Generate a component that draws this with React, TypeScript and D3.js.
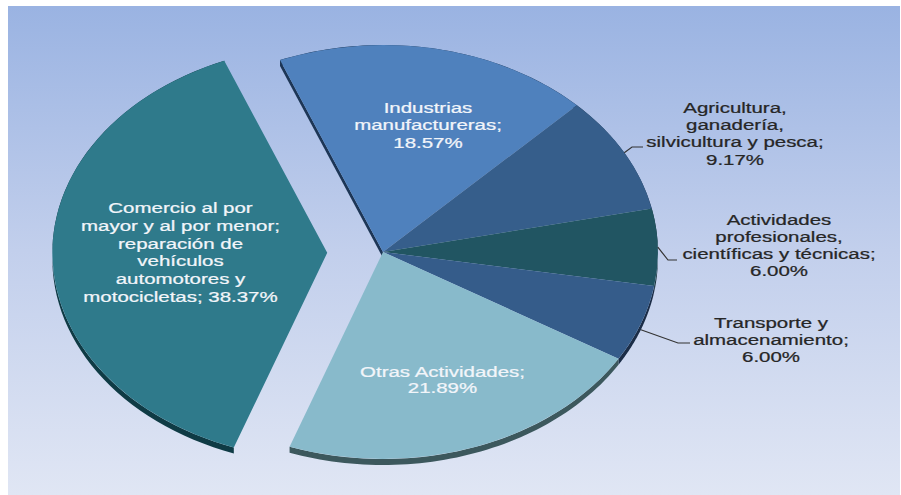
import React from "react";
import * as d3 from "d3";

const categories = [
  "Industrias manufactureras",
  "Agricultura, ganadería, silvicultura y pesca",
  "Actividades profesionales, científicas y técnicas",
  "Transporte y almacenamiento",
  "Otras Actividades",
  "Comercio al por mayor y al por menor; reparación de vehículos automotores y motocicletas",
];
const values = [18.57, 9.17, 6.0, 6.0, 21.89, 38.37];
const labelNameLines = [
  ["Industrias", "manufactureras;"],
  ["Agricultura,", "ganadería,", "silvicultura y pesca;"],
  ["Actividades", "profesionales,", "científicas y técnicas;"],
  ["Transporte y", "almacenamiento;"],
  ["Otras Actividades;"],
  ["Comercio al por", "mayor y al por menor;", "reparación de", "vehículos", "automotores y", "motocicletas;"],
];

// layout / style (not data)
const W = 901;
const H = 495;
const CX = 383;
const CY = 252;
const R = 207;
const SX = 1.328;
const DEPTH = 6;
const EXPLODE = [0, 0, 0, 0, 0, 42];
const START = (-22 * Math.PI) / 180;
const FILLS = ["#4f81bd", "#365e8b", "#215562", "#355c8a", "#88bacb", "#2f7a8b"];
const SIDES = ["#1d3656", "#1e3550", "#123038", "#1b2d47", "#3c585d", "#0f3b45"];
const LABEL_LAYOUT = [
  { x: 428, y: 112.7, lh: 17.8, color: "#f2f5fa", newLine: true, elbow: null },
  { x: 735, y: 112.7, lh: 17.3, color: "#262626", newLine: true, elbow: [[632, 147], [643, 147]] },
  { x: 779, y: 225, lh: 17, color: "#262626", newLine: true, elbow: [[668, 260], [677, 260]] },
  { x: 771, y: 328.3, lh: 17, color: "#262626", newLine: true, elbow: [[678, 343], [690, 343]] },
  { x: 442.5, y: 376.7, lh: 16.6, color: "#f2f5fa", newLine: true, elbow: null },
  { x: 180.5, y: 213.3, lh: 17.7, color: "#f2f5fa", newLine: false, elbow: null },
];

function pt(a: number, r: number): [number, number] {
  return [r * Math.sin(a), -r * Math.cos(a)];
}

export default function App() {
  const pie = d3
    .pie<number>()
    .sort(null)
    .value((d) => d)
    .startAngle(START)
    .endAngle(START + 2 * Math.PI);
  const arcs = pie(values);
  const arcGen = d3.arc<d3.PieArcDatum<number>>().innerRadius(0).outerRadius(R);

  const offsets = arcs.map((a, i) => {
    const mid = (a.startAngle + a.endAngle) / 2;
    return pt(mid, EXPLODE[i]);
  });

  const bandPath = (a: d3.PieArcDatum<number>) => {
    const n = 60;
    const angs = d3.range(n + 1).map((k) => a.startAngle + ((a.endAngle - a.startAngle) * k) / n);
    const top = angs.map((t) => pt(t, R));
    const bottom = angs.slice().reverse().map((t) => {
      const p = pt(t, R);
      return [p[0], p[1] + DEPTH] as [number, number];
    });
    return d3.line()([...top, ...bottom]) + "Z";
  };

  const radialFace = (a: d3.PieArcDatum<number>) => {
    const p = pt(a.startAngle, R);
    return d3.line()([
      [0, 0],
      p,
      [p[0], p[1] + DEPTH],
      [0, DEPTH],
    ]) + "Z";
  };

  const fmt = (v: number) => v.toFixed(2) + "%";

  return (
    <div style={{ position: "absolute", left: 0, top: 0 }}>
      <svg width={W} height={H} viewBox={`0 0 ${W} ${H}`} style={{ display: "block" }}>
        <defs>
          <linearGradient id="bg" x1="0" y1="0" x2="0" y2="1">
            <stop offset="0%" stopColor="#9ab3e2" />
            <stop offset="50%" stopColor="#c2cfec" />
            <stop offset="100%" stopColor="#e0e6f4" />
          </linearGradient>
        </defs>
        <rect x={0} y={0} width={W} height={H} fill="#ffffff" />
        <rect x={8} y={6} width={W - 9} height={H - 6} fill="url(#bg)" />
        <g transform={`translate(${CX},${CY}) scale(${SX},1)`}>
          {arcs.map((a, i) => (
            <g key={"side" + i} transform={`translate(${offsets[i][0]},${offsets[i][1]})`}>
              <path d={bandPath(a)} fill={SIDES[i]} />
              {i === 0 && <path d={radialFace(a)} fill={SIDES[i]} />}
            </g>
          ))}
          {arcs.map((a, i) => (
            <path
              key={"top" + i}
              d={arcGen(a) || ""}
              transform={`translate(${offsets[i][0]},${offsets[i][1]})`}
              fill={FILLS[i]}
            >
              <title>{categories[i]}</title>
            </path>
          ))}
        </g>
        {arcs.map((a, i) => {
          const L = LABEL_LAYOUT[i];
          if (!L.elbow) return null;
          const mid = (a.startAngle + a.endAngle) / 2;
          const p = pt(mid, R);
          const lower = Math.cos(mid) < 0 ? DEPTH : 0;
          const start: [number, number] = [CX + p[0] * SX, CY + p[1] + lower];
          return (
            <path
              key={"lead" + i}
              d={d3.line()([start, ...(L.elbow as [number, number][])]) || ""}
              fill="none"
              stroke="#333333"
              strokeWidth={1.2}
            />
          );
        })}
        {values.map((v, i) => {
          const L = LABEL_LAYOUT[i];
          const names = labelNameLines[i];
          const lines = L.newLine
            ? [...names, fmt(v)]
            : [...names.slice(0, -1), names[names.length - 1] + " " + fmt(v)];
          return (
            <text
              key={"lab" + i}
              transform={`translate(${L.x},${L.y}) scale(1.32,1)`}
              textAnchor="middle"
              fontFamily="'Liberation Sans', Arial, sans-serif"
              fontSize={15.5}
              fill={L.color}
              stroke={L.color}
              strokeWidth={0.25}
            >
              {lines.map((t, k) => (
                <tspan key={k} x={0} y={k * L.lh}>
                  {t}
                </tspan>
              ))}
            </text>
          );
        })}
      </svg>
    </div>
  );
}
